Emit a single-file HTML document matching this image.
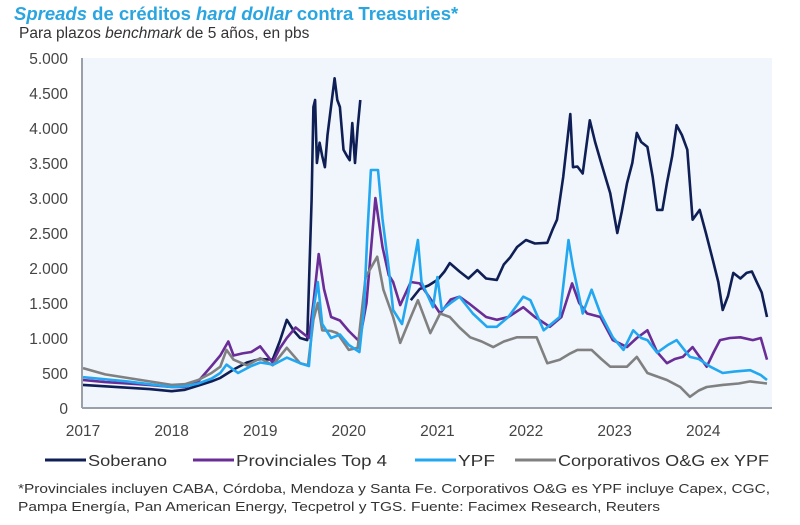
<!DOCTYPE html>
<html><head><meta charset="utf-8"><style>
body{margin:0;background:#fff;font-family:"Liberation Sans",sans-serif;}
#wrap{position:relative;width:800px;height:525px;overflow:hidden;}
.t{position:absolute;white-space:nowrap;}
</style></head><body>
<div id="wrap">
<div class="t" style="left:14px;top:3px;font-size:18.5px;font-weight:bold;color:#2aa5e0;"><i>Spreads</i> de créditos <i>hard dollar</i> contra Treasuries*</div>
<div class="t" style="left:19px;top:25px;font-size:15.5px;color:#333;">Para plazos <i>benchmark</i> de 5 años, en pbs</div>
<svg id="chart" width="800" height="525" style="position:absolute;left:0;top:0;">
<text x="18" y="493" font-size="13" fill="#333" textLength="752" lengthAdjust="spacingAndGlyphs" font-family="Liberation Sans, sans-serif">*Provinciales incluyen CABA, Córdoba, Mendoza y Santa Fe. Corporativos O&amp;G es YPF incluye Capex, CGC,</text>
<text x="18" y="511" font-size="13" fill="#333" textLength="642" lengthAdjust="spacingAndGlyphs" font-family="Liberation Sans, sans-serif">Pampa Energía, Pan American Energy, Tecpetrol y TGS. Fuente: Facimex Research, Reuters</text>
</svg>
</div>
<script>
const yTicks=[0,500,1000,1500,2000,2500,3000,3500,4000,4500,5000];
const yTickLabels=["0","500","1.000","1.500","2.000","2.500","3.000","3.500","4.000","4.500","5.000"];
const xYears=[2017,2018,2019,2020,2021,2022,2023,2024];
const sobDates=[2017.0,2017.25,2017.5,2017.75,2018.0,2018.15,2018.3,2018.45,2018.55,2018.7,2018.85,2019.0,2019.14,2019.22,2019.3,2019.38,2019.45,2019.53,2019.58,2019.6,2019.62,2019.64,2019.67,2019.7,2019.73,2019.76,2019.79,2019.84,2019.87,2019.9,2019.94,2019.98,2020.01,2020.04,2020.07,2020.1,2020.13,null,2020.7,2020.8,2020.9,2021.0,2021.08,2021.14,2021.25,2021.35,2021.45,2021.55,2021.67,2021.75,2021.82,2021.9,2022.0,2022.1,2022.24,2022.3,2022.35,2022.42,2022.5,2022.53,2022.58,2022.64,2022.72,2022.78,2022.84,2022.95,2023.03,2023.08,2023.14,2023.2,2023.25,2023.3,2023.37,2023.43,2023.48,2023.54,2023.59,2023.65,2023.7,2023.76,2023.82,2023.88,2023.96,2024.03,2024.11,2024.17,2024.22,2024.28,2024.34,2024.42,2024.49,2024.55,2024.6,2024.66,2024.72];
const sobValues=[330,310,290,270,240,260,320,380,430,550,650,700,690,950,1260,1100,1000,970,2970,4300,4400,3500,3790,3600,3440,3900,4210,4710,4400,4300,3690,3600,3540,4070,3500,4010,4400,null,1540,1700,1750,1830,1950,2070,1950,1850,1970,1850,1830,2050,2150,2300,2400,2350,2360,2550,2690,3300,4200,3440,3450,3350,4110,3800,3540,3070,2500,2800,3210,3500,3930,3800,3730,3300,2830,2830,3210,3600,4040,3900,3690,2690,2830,2500,2110,1800,1400,1600,1930,1850,1930,1950,1810,1650,1300];
const provDates=[2017.0,2017.25,2017.5,2017.75,2018.0,2018.15,2018.3,2018.45,2018.55,2018.64,2018.7,2018.8,2018.9,2019.0,2019.14,2019.22,2019.3,2019.4,2019.55,2019.6,2019.66,2019.72,2019.8,2019.9,2020.0,2020.12,2020.2,2020.26,2020.3,2020.38,2020.45,2020.5,2020.58,2020.7,2020.8,2020.9,2021.03,2021.15,2021.25,2021.35,2021.45,2021.55,2021.67,2021.8,2021.97,2022.1,2022.27,2022.4,2022.52,2022.6,2022.69,2022.84,2022.98,2023.14,2023.25,2023.37,2023.48,2023.59,2023.68,2023.77,2023.88,2024.04,2024.12,2024.19,2024.3,2024.42,2024.56,2024.65,2024.72];
const provValues=[400,370,350,330,300,300,380,600,750,950,750,780,800,880,650,850,1000,1150,1000,1500,2200,1700,1300,1250,1100,950,1500,2400,3000,2300,1900,1800,1470,1800,1780,1600,1350,1550,1590,1500,1400,1300,1260,1300,1440,1300,1160,1300,1780,1500,1350,1300,970,870,1000,1110,800,640,700,730,870,590,800,970,1000,1010,970,1000,690];
const ypfDates=[2017.0,2017.25,2017.5,2017.75,2018.0,2018.15,2018.3,2018.45,2018.55,2018.62,2018.75,2018.9,2019.0,2019.15,2019.3,2019.45,2019.55,2019.6,2019.65,2019.7,2019.8,2019.9,2020.0,2020.12,2020.17,2020.21,2020.25,2020.33,2020.38,2020.45,2020.5,2020.6,2020.69,2020.78,2020.82,2020.95,2021.0,2021.05,2021.15,2021.25,2021.4,2021.56,2021.67,2021.8,2021.97,2022.05,2022.2,2022.38,2022.48,2022.53,2022.64,2022.74,2022.84,2022.98,2023.1,2023.21,2023.3,2023.37,2023.48,2023.6,2023.7,2023.85,2023.95,2024.08,2024.22,2024.35,2024.53,2024.65,2024.72];
const ypfValues=[440,410,380,340,300,310,350,420,500,620,500,600,650,620,720,640,600,1400,1800,1200,1000,1050,900,800,1400,2500,3400,3400,2700,2000,1400,1200,1750,2400,1800,1440,1870,1400,1500,1590,1350,1160,1160,1300,1590,1540,1110,1300,2400,2010,1350,1690,1350,1010,830,1110,1000,970,790,900,970,730,700,590,500,520,540,470,400];
const corpDates=[2017.0,2017.25,2017.5,2017.75,2018.0,2018.15,2018.3,2018.45,2018.55,2018.62,2018.7,2018.85,2019.0,2019.14,2019.3,2019.45,2019.54,2019.6,2019.65,2019.7,2019.8,2019.87,2020.0,2020.1,2020.19,2020.32,2020.39,2020.5,2020.58,2020.7,2020.78,2020.92,2021.03,2021.14,2021.25,2021.37,2021.5,2021.63,2021.75,2021.9,2022.12,2022.24,2022.38,2022.5,2022.58,2022.74,2022.85,2022.95,2023.14,2023.25,2023.37,2023.48,2023.59,2023.74,2023.85,2023.95,2024.04,2024.22,2024.4,2024.53,2024.72];
const corpValues=[570,480,430,380,330,340,400,500,590,830,690,610,710,610,860,640,610,1260,1500,1110,1100,1070,830,860,1870,2160,1690,1300,930,1300,1540,1070,1350,1300,1150,1010,950,870,950,1010,1010,640,690,780,830,830,700,590,590,730,500,450,400,300,160,250,300,330,350,380,350];
const series=[
 {name:'soberano',dates:sobDates,values:sobValues,color:'#0f1f55'},
 {name:'provinciales',dates:provDates,values:provValues,color:'#6a2c96'},
 {name:'corporativos',dates:corpDates,values:corpValues,color:'#808080'},
 {name:'ypf',dates:ypfDates,values:ypfValues,color:'#22a7f0'}
];
const X0=82,X1=772,Y0=408,Y1=58;
function xs(t){return 83+(t-2017)*88.6;}
function ys(v){return Y0-(v/5000)*(Y0-Y1);}
const NS='http://www.w3.org/2000/svg';
const svg=document.getElementById('chart');
function mk(tag,attrs){const e=document.createElementNS(NS,tag);for(const k in attrs)e.setAttribute(k,attrs[k]);svg.appendChild(e);return e;}
const bg=mk('rect',{x:X0,y:Y1,width:X1-X0,height:Y0-Y1,fill:'#f0f6fc'});


yTicks.forEach((v,i)=>{
 const t=mk('text',{x:68,y:ys(v)+6,'text-anchor':'end','font-size':'15.5','fill':'#444','font-family':'Liberation Sans, sans-serif'});
 t.textContent=yTickLabels[i];
 
 
});
xYears.forEach(yr=>{
 const t=mk('text',{x:xs(yr),y:436,'text-anchor':'middle','font-size':'15.5','fill':'#444','font-family':'Liberation Sans, sans-serif'});
 t.textContent=String(yr);
 
 
});
series.forEach(s=>{
 let d='',pen=false;
 s.dates.forEach((t,i)=>{
  const v=s.values[i];
  if(t===null||v===null){pen=false;return;}
  d+=(pen?'L':'M')+xs(t).toFixed(1)+','+ys(v).toFixed(1);pen=true;
 });
 const p=mk('path',{d:d,fill:'none',stroke:s.color,'stroke-width':'2.6','stroke-linejoin':'round'});
 
 
});
const ax1=mk('line',{x1:X0,y1:Y1,x2:X0,y2:Y0,stroke:'#9aa0aa','stroke-width':'2'});


const ax2=mk('line',{x1:X0,y1:Y0,x2:X1,y2:Y0,stroke:'#9aa0aa','stroke-width':'2'});


const legendLabels=['Soberano','Provinciales Top 4','YPF','Corporativos O&G ex YPF'];
const legendColors=['#0f1f55','#6a2c96','#22a7f0','#808080'];
const legendX=[45,193,415,515];
const legendTextW=[79,151,37,211];
legendLabels.forEach((lab,i)=>{
 const l=mk('line',{x1:legendX[i],y1:460,x2:legendX[i]+41,y2:460,stroke:legendColors[i],'stroke-width':'3'});
 
 
 const t=mk('text',{x:legendX[i]+43,y:466,'font-size':'16','fill':'#333',textLength:legendTextW[i],lengthAdjust:'spacingAndGlyphs','font-family':'Liberation Sans, sans-serif'});
 t.textContent=lab;
 
 
});
</script>
</body></html>
